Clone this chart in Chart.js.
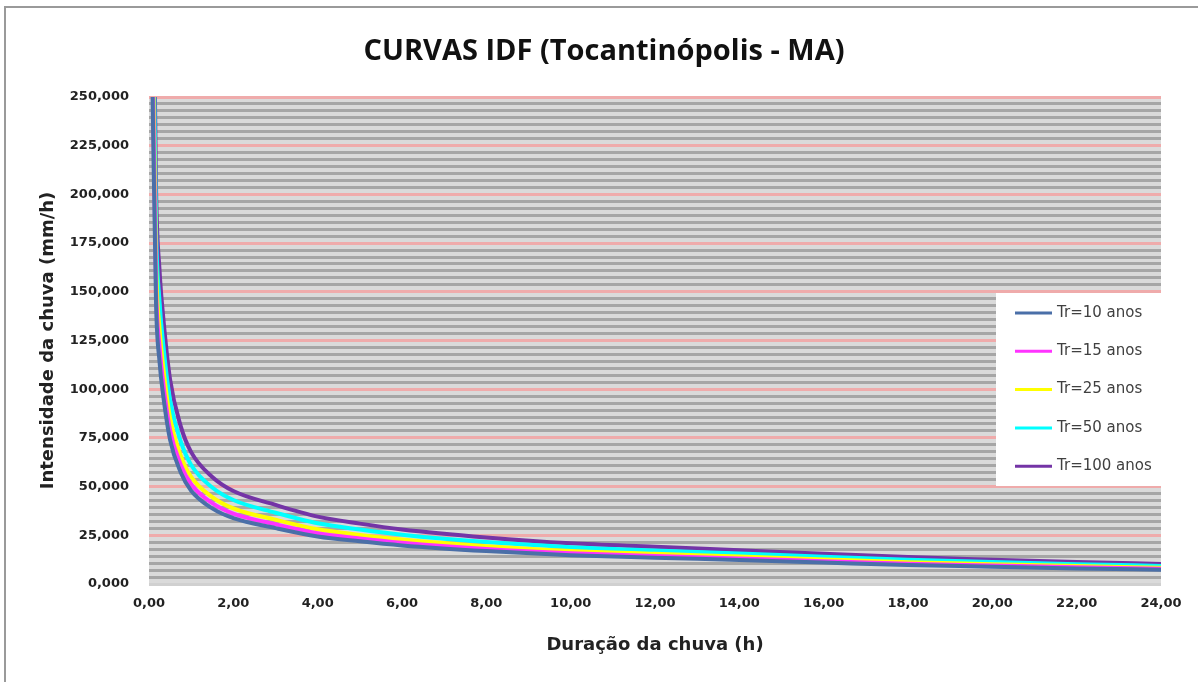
<!DOCTYPE html>
<html>
<head>
<meta charset="utf-8">
<script src="https://cdn.jsdelivr.net/npm/chart.js@4.4.1/dist/chart.umd.min.js"></script>
<style>
  html, body { margin: 0; padding: 0; background: #fff; }
  #wrap { position: relative; width: 1198px; height: 682px; overflow: hidden; }
  #frame { position: absolute; left: 4px; top: 6px; width: 1210px; height: 700px; border: 2px solid #9a9a9a; box-sizing: border-box; }
  canvas { position: absolute; left: 0; top: 0; }
</style>
</head>
<body>
<div id="wrap">
  <div id="frame"></div>
  <canvas id="idf-chart" width="1198" height="682"></canvas>
</div>
<script>
// duração (h)
const duracoes = [0.083, 0.167, 0.25, 0.333, 0.5, 0.75, 1, 1.5, 2, 3, 4, 5, 6, 8, 10, 12, 14, 16, 18, 20, 22, 24];

// intensidade (mm/h) por tempo de retorno
const tr10 = [253, 144, 114, 97.4, 74, 57.4, 47.9, 38.8, 33.8, 28.7, 24.4, 21.9, 19.8, 16.9, 14.8, 13.5, 12.3, 11, 9.7, 8.9, 8, 7.3];
const tr15 = [271, 153, 122, 104, 79, 61.4, 51.2, 41.5, 36.1, 30.7, 26.1, 23.4, 21.2, 18, 15.8, 14.4, 13.1, 11.7, 10.4, 9.5, 8.6, 7.8];
const tr25 = [291, 165, 131, 112, 85, 66, 55, 44.6, 38.8, 33, 28.1, 25.2, 22.8, 19.4, 17, 15.5, 14.1, 12.6, 11.2, 10.2, 9.2, 8.4];
const tr50 = [323, 183, 145, 124, 94.4, 73.3, 61.1, 49.5, 43.1, 36.6, 31.2, 28, 25.3, 21.5, 18.9, 17.2, 15.7, 14, 12.4, 11.3, 10.2, 9.3];
const tr100 = [358, 203, 161, 138, 105, 81.2, 67.7, 54.9, 47.7, 40.6, 34.6, 31, 28, 23.9, 20.9, 19.1, 17.3, 15.5, 13.8, 12.5, 11.3, 10.3];

const nomes = ["Tr=10 anos", "Tr=15 anos", "Tr=25 anos", "Tr=50 anos", "Tr=100 anos"];
const cores = ["#4a6fa8", "#ff33ff", "#ffff00", "#00ffff", "#7434a6"];

const xTicks = [0, 2, 4, 6, 8, 10, 12, 14, 16, 18, 20, 22, 24];
const yTicks = [0, 25, 50, 75, 100, 125, 150, 175, 200, 225, 250];

const series = [tr10, tr15, tr25, tr50, tr100];

const isMajor = (v) => yTicks.some((t) => Math.abs(t - v) < 1e-6);
const fmt = (v, d) => v.toFixed(d).replace(".", ",");

const plotBg = {
    id: "plotBg",
    beforeDraw(chart) {
        const { ctx, chartArea: a } = chart;
        ctx.save();
        ctx.fillStyle = "#dadada";
        ctx.fillRect(a.left, a.top, a.right - a.left, a.bottom - a.top);
        ctx.restore();
    },
};

const legendBox = {
    id: "legendBox",
    afterDatasetsDraw(chart) {
        const { ctx, chartArea: a } = chart;
        const w = 165, h = 193;
        const x0 = a.right - w;
        const y0 = a.top + 196;
        ctx.save();
        ctx.fillStyle = "#ffffff";
        ctx.fillRect(x0, y0, w, h);
        ctx.font = '15px "DejaVu Sans"';
        ctx.textBaseline = "middle";
        chart.data.datasets.forEach((ds, i) => {
            const y = y0 + 20 + i * 38.3;
            ctx.strokeStyle = ds.borderColor;
            ctx.lineWidth = 3;
            ctx.beginPath();
            ctx.moveTo(x0 + 19, y);
            ctx.lineTo(x0 + 56, y);
            ctx.stroke();
            ctx.fillStyle = "#404040";
            ctx.fillText(ds.label, x0 + 61, y);
        });
        ctx.restore();
    },
};

const canvas = document.querySelector("#idf-chart");
const chart = new Chart(canvas, {
    type: "line",
    data: {
        datasets: series.map((vals, i) => ({
            label: nomes[i],
            data: duracoes.map((t, j) => ({ x: t, y: vals[j] })),
            borderColor: cores[i],
            backgroundColor: cores[i],
            borderWidth: 4,
            pointRadius: 0,
            tension: 0.4,
            cubicInterpolationMode: "monotone",
        })),
    },
    options: {
        responsive: false,
        animation: false,
        devicePixelRatio: 1,
        layout: { padding: { left: 10, right: 0, top: 0, bottom: 0 } },
        plugins: {
            legend: { display: false },
            tooltip: { enabled: false },
            title: {
                display: true,
                text: "CURVAS IDF (Tocantinópolis - MA)",
                color: "#111",
                fullSize: true,
                font: { family: "Open Sans", size: 29, weight: "bold", lineHeight: 1.2 },
                padding: { top: 34.6, bottom: 27.6 },
            },
        },
        scales: {
            x: {
                type: "linear",
                min: xTicks[0],
                max: xTicks[xTicks.length - 1],
                afterBuildTicks: (s) => { s.ticks = xTicks.map((v) => ({ value: v })); },
                afterFit: (s) => { s.height = 98; },
                grid: { display: false, drawTicks: false },
                border: { display: false },
                ticks: {
                    padding: 12,
                    color: "#222",
                    font: { family: "DejaVu Sans", size: 13, weight: "bold" },
                    callback: (v) => fmt(v, 2),
                    maxRotation: 0,
                },
                title: {
                    display: true,
                    text: "Duração da chuva (h)",
                    color: "#222",
                    font: { family: "DejaVu Sans", size: 18, weight: "bold", lineHeight: 1.2 },
                    padding: { top: 0, bottom: 26.2 },
                },
            },
            y: {
                type: "linear",
                min: yTicks[0],
                max: yTicks[yTicks.length - 1],
                afterFit: (s) => { s.width = 139; },
                grid: {
                    drawTicks: false,
                    lineWidth: 3,
                    color: (c) => {
                        if (!c.tick) return "#a6a6a6";
                        if (c.tick.value === 0) return "#d0d0d0";
                        return isMajor(c.tick.value) ? "#efabab" : "#a6a6a6";
                    },
                },
                border: { display: false },
                ticks: {
                    stepSize: 25 / 7,
                    autoSkip: false,
                    padding: 20,
                    color: "#222",
                    font: { family: "DejaVu Sans", size: 13, weight: "bold" },
                    callback: (v) => (isMajor(v) ? fmt(Math.round(v), 3) : ""),
                },
                title: {
                    display: true,
                    text: "Intensidade da chuva (mm/h)",
                    color: "#222",
                    font: { family: "DejaVu Sans", size: 18, weight: "bold", lineHeight: 1.2 },
                    padding: { top: 27.2, bottom: 0 },
                },
            },
            y2: {
                type: "linear",
                position: "right",
                display: true,
                afterFit: (s) => { s.width = 37; },
                grid: { display: false, drawTicks: false },
                border: { display: false },
                ticks: { display: false },
            },
        },
    },
    plugins: [plotBg, legendBox],
});
</script>
</body>
</html>
